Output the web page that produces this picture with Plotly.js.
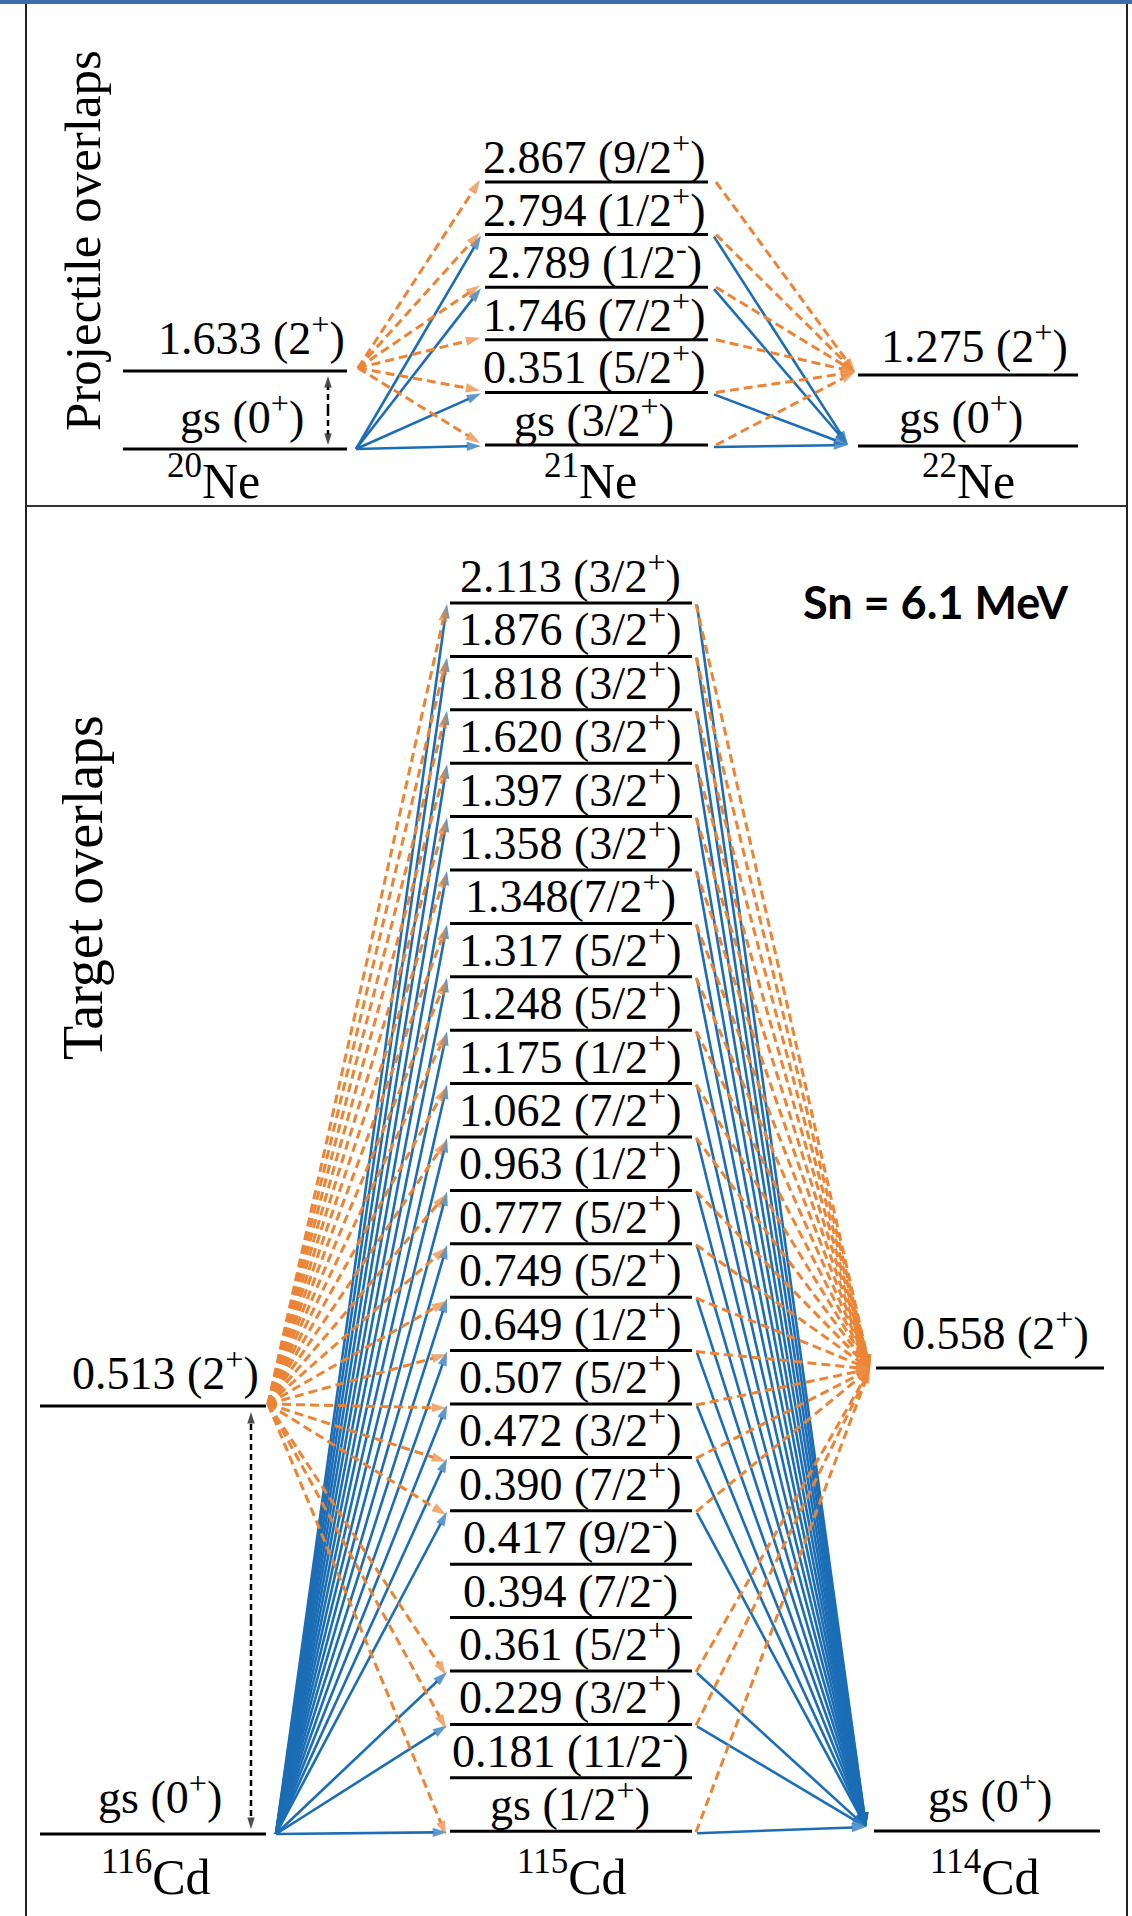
<!DOCTYPE html>
<html>
<head>
<meta charset="utf-8">
<script src="https://cdn.plot.ly/plotly-3.0.1.min.js"></script>
<style>
html,body{margin:0;padding:0;background:#ffffff;}
#chart{width:1132px;height:1916px;}
</style>
</head>
<body>
<div id="chart"></div>
<script>
// ================= DATA =================
// Projectile overlaps: 20Ne -> 21Ne -> 22Ne
const projLeftLabels  = ['1.633 (2+)', 'gs (0+)'];                 // 20Ne [excited, gs]
const projMidLabels   = ['2.867 (9/2+)', '2.794 (1/2+)', '2.789 (1/2-)',
                         '1.746 (7/2+)', '0.351 (5/2+)', 'gs (3/2+)'];  // 21Ne
const projRightLabels = ['1.275 (2+)', 'gs (0+)'];                 // 22Ne [excited, gs]
const projMass        = ['20', '21', '22'];
const projElement     = 'Ne';
const projGsLinks     = [0, 1, 1, 0, 1, 1];   // solid: gs(0+) overlaps
const projExLinks     = [1, 1, 1, 1, 1, 1];   // dashed: 2+ overlaps

// Target overlaps: 116Cd -> 115Cd -> 114Cd
const targLeftLabels  = ['0.513 (2+)', 'gs (0+)'];                 // 116Cd
const targMidLabels   = ['2.113 (3/2+)', '1.876 (3/2+)', '1.818 (3/2+)', '1.620 (3/2+)',
                         '1.397 (3/2+)', '1.358 (3/2+)', '1.348(7/2+)', '1.317 (5/2+)',
                         '1.248 (5/2+)', '1.175 (1/2+)', '1.062 (7/2+)', '0.963 (1/2+)',
                         '0.777 (5/2+)', '0.749 (5/2+)', '0.649 (1/2+)', '0.507 (5/2+)',
                         '0.472 (3/2+)', '0.390 (7/2+)', '0.417 (9/2-)', '0.394 (7/2-)',
                         '0.361 (5/2+)', '0.229 (3/2+)', '0.181 (11/2-)', 'gs (1/2+)'];  // 115Cd
const targRightLabels = ['0.558 (2+)', 'gs (0+)'];                 // 114Cd
const targMass        = ['116', '115', '114'];
const targElement     = 'Cd';
const targGsLinks     = [1,1,1,1,1,1,1,1,1,1,1,1,1,1,1,1,1,1,0,0,1,1,0,1];
const targExLinks     = [1,1,1,1,1,1,1,1,1,1,1,1,1,1,1,1,1,1,0,0,1,1,0,1];
const panelTitles     = ['Projectile overlaps', 'Target overlaps'];
const noteText        = 'Sn = 6.1 MeV';

// ================= STYLE / LAYOUT =================
const W = 1132, H = 1916;
const SERIF = '"Liberation Serif", "Times New Roman", serif';
const BLUE = '#1b6db5', ORANGE = '#eb8434';
const LABEL_SIZE = 46, NUC_SIZE = 50;

const annotations = [];
const lvX = [], lvY = [];
const bX = [], bY = [], bS = [];
const oX = [], oY = [], oS = [];
const dX = [], dY = [], dS = [];

function fmt(label) { return label.replace(/([+\-])\)$/, '<sup>$1</sup>)'); }
function level(x0, x1, y) { lvX.push(x0, x1, null); lvY.push(y, y, null); }
function arrow(X, Y, S, x0, y0, x1, y1, size) { X.push(x0, x1, null); Y.push(y0, y1, null); S.push(0, size, 0); }
function txt(text, x, baseline, xanchor, size, extra) {
  annotations.push(Object.assign({
    x: x, y: baseline + 0.216 * size, xref: 'x', yref: 'y', text: text, showarrow: false,
    xanchor: xanchor, yanchor: 'bottom', borderpad: 0,
    font: {family: SERIF, size: size, color: '#000'}
  }, extra || {}));
}
function nuc(mass, el) { return '<sup>' + mass + '</sup>' + el; }

// ---------- Projectile panel ----------
const P = {
  L: {x0: 123, x1: 347, yEx: 371, yGs: 449, exLabX: 346, gsLabX: 242},
  M: {x0: 485, x1: 708, y0: 182, dy: 52.6, labX: 594},
  R: {x0: 858, x1: 1078, yEx: 375, yGs: 446, exLabX: 974, gsLabX: 961},
  nucX: [213, 590, 968], nucBase: 499
};
level(P.L.x0, P.L.x1, P.L.yEx);
level(P.L.x0, P.L.x1, P.L.yGs);
level(P.R.x0, P.R.x1, P.R.yEx);
level(P.R.x0, P.R.x1, P.R.yGs);
txt(fmt(projLeftLabels[0]), P.L.exLabX, P.L.yEx - 16, 'right', LABEL_SIZE);
txt(fmt(projLeftLabels[1]), P.L.gsLabX, P.L.yGs - 15, 'center', LABEL_SIZE);
txt(fmt(projRightLabels[0]), P.R.exLabX, P.R.yEx - 12, 'center', LABEL_SIZE);
txt(fmt(projRightLabels[1]), P.R.gsLabX, P.R.yGs - 12, 'center', LABEL_SIZE);
projMidLabels.forEach(function (lab, i) {
  const y = P.M.y0 + i * P.M.dy;
  level(P.M.x0, P.M.x1, y);
  txt(fmt(lab), P.M.labX, y - 8, 'center', LABEL_SIZE);
  if (projGsLinks[i]) {
    arrow(bX, bY, bS, 356, P.L.yGs, P.M.x0 - 4, y + 1, 15);
    arrow(bX, bY, bS, P.M.x1 + 6, y + 2, P.R.x0 - 10, P.R.yGs - 1, 15);
  }
  if (projExLinks[i]) {
    arrow(oX, oY, oS, 358, P.L.yEx - 3, P.M.x0 - 5, y - 2, 15);
    arrow(oX, oY, oS, P.M.x1 + 8, y, P.R.x0 - 3, P.R.yEx - 3, 15);
  }
});
// double arrow 20Ne
(function () {
  const x = 328, ym = (P.L.yEx + P.L.yGs) / 2;
  arrow(dX, dY, dS, x, ym, x, P.L.yEx + 5, 12);
  arrow(dX, dY, dS, x, ym, x, P.L.yGs - 4, 12);
})();
projMass.forEach(function (m, i) { txt(nuc(m, projElement), P.nucX[i], P.nucBase, 'center', NUC_SIZE); });

// ---------- Target panel ----------
const T = {
  L: {x0: 40, x1: 266, yEx: 1406, yGs: 1834, exLabX: 260, gsLabX: 160},
  M: {x0: 450, x1: 692, y0: 603, dy: 53.4, labX: 570},
  R: {x0: 876, x1: 1104, yEx: 1368, gx0: 874, gx1: 1100, yGs: 1831, exLabX: 995, gsLabX: 990},
  nucX: [156, 572, 985], nucBase: 1895
};
level(T.L.x0, T.L.x1, T.L.yEx);
level(T.L.x0, T.L.x1, T.L.yGs);
level(T.R.x0, T.R.x1, T.R.yEx);
level(T.R.gx0, T.R.gx1, T.R.yGs);
txt(fmt(targLeftLabels[0]), T.L.exLabX, T.L.yEx - 16, 'right', LABEL_SIZE);
txt(fmt(targLeftLabels[1]), T.L.gsLabX, T.L.yGs - 20, 'center', LABEL_SIZE);
txt(fmt(targRightLabels[0]), T.R.exLabX, T.R.yEx - 18, 'center', LABEL_SIZE);
txt(fmt(targRightLabels[1]), T.R.gsLabX, T.R.yGs - 18, 'center', LABEL_SIZE);
targMidLabels.forEach(function (lab, i) {
  const y = T.M.y0 + i * T.M.dy;
  level(T.M.x0, T.M.x1, y);
  txt(fmt(lab), T.M.labX, y - 10, 'center', LABEL_SIZE);
  if (targGsLinks[i]) {
    arrow(bX, bY, bS, 276, T.L.yGs, T.M.x0 - 3, y + 1, 15);
    arrow(bX, bY, bS, T.M.x1 + 5, y + 2, T.R.gx0 - 8, T.R.yGs - 4, 15);
  }
  if (targExLinks[i]) {
    arrow(oX, oY, oS, 268, T.L.yEx - 2, T.M.x0 - 4, y + 4, 15);
    arrow(oX, oY, oS, T.M.x1 + 4, y + 1, T.R.x0 - 6, T.R.yEx + 1, 15);
  }
});
(function () {
  const x = 251, ym = (T.L.yEx + T.L.yGs) / 2;
  arrow(dX, dY, dS, x, ym, x, T.L.yEx + 6, 12);
  arrow(dX, dY, dS, x, ym, x, T.L.yGs - 5, 12);
})();
targMass.forEach(function (m, i) { txt(nuc(m, targElement), T.nucX[i], T.nucBase, 'center', NUC_SIZE); });

// panel titles and note
annotations.push({x: 83, y: 241, xref: 'x', yref: 'y', text: panelTitles[0], showarrow: false,
  textangle: -90, xanchor: 'center', yanchor: 'middle', font: {family: SERIF, size: 51, color: '#000'}});
annotations.push({x: 83, y: 888, xref: 'x', yref: 'y', text: panelTitles[1], showarrow: false,
  textangle: -90, xanchor: 'center', yanchor: 'middle', font: {family: SERIF, size: 56, color: '#000'}});
annotations.push({x: 936, y: 602, xref: 'x', yref: 'y', text: '<b>' + noteText + '</b>', showarrow: false,
  xanchor: 'center', yanchor: 'middle', font: {family: 'Lato, "Open Sans", sans-serif', size: 45, color: '#000'}});

// ================= TRACES =================
const traces = [
  {type: 'scatter', mode: 'lines', x: lvX, y: lvY, line: {color: '#000', width: 3},
   hoverinfo: 'skip', showlegend: false},
  {type: 'scatter', mode: 'lines+markers', x: bX, y: bY,
   line: {color: BLUE, width: 2.6},
   marker: {symbol: 'arrow', size: bS, color: BLUE, angleref: 'previous', line: {width: 0}},
   hoverinfo: 'skip', showlegend: false},
  {type: 'scatter', mode: 'lines+markers', x: oX, y: oY,
   line: {color: ORANGE, width: 3, dash: '9px,5px'},
   marker: {symbol: 'arrow', size: oS, color: ORANGE, angleref: 'previous', line: {width: 0}},
   hoverinfo: 'skip', showlegend: false},
  {type: 'scatter', mode: 'lines+markers', x: dX, y: dY,
   line: {color: '#000', width: 2.5, dash: '6px,4px'},
   marker: {symbol: 'arrow', size: dS, color: '#000', angleref: 'previous', line: {width: 0}},
   hoverinfo: 'skip', showlegend: false}
];

const shapes = [
  {type: 'rect', xref: 'x', yref: 'y', x0: 0, x1: W, y0: 0, y1: 4, fillcolor: '#3c6da6', line: {width: 0}},
  {type: 'line', xref: 'x', yref: 'y', x0: 26, x1: 26, y0: 4, y1: H, line: {color: '#222', width: 2}},
  {type: 'line', xref: 'x', yref: 'y', x0: 1127, x1: 1127, y0: 4, y1: H, line: {color: '#222', width: 2}},
  {type: 'line', xref: 'x', yref: 'y', x0: 26, x1: 1127, y0: 506, y1: 506, line: {color: '#333', width: 2}}
];

const layout = {
  width: W, height: H, margin: {l: 0, r: 0, t: 0, b: 0, pad: 0},
  paper_bgcolor: '#ffffff', plot_bgcolor: '#ffffff',
  xaxis: {range: [0, W], visible: false, fixedrange: true},
  yaxis: {range: [H, 0], visible: false, fixedrange: true},
  showlegend: false, annotations: annotations, shapes: shapes
};

Plotly.newPlot('chart', traces, layout, {staticPlot: true, displayModeBar: false});
</script>
</body>
</html>
